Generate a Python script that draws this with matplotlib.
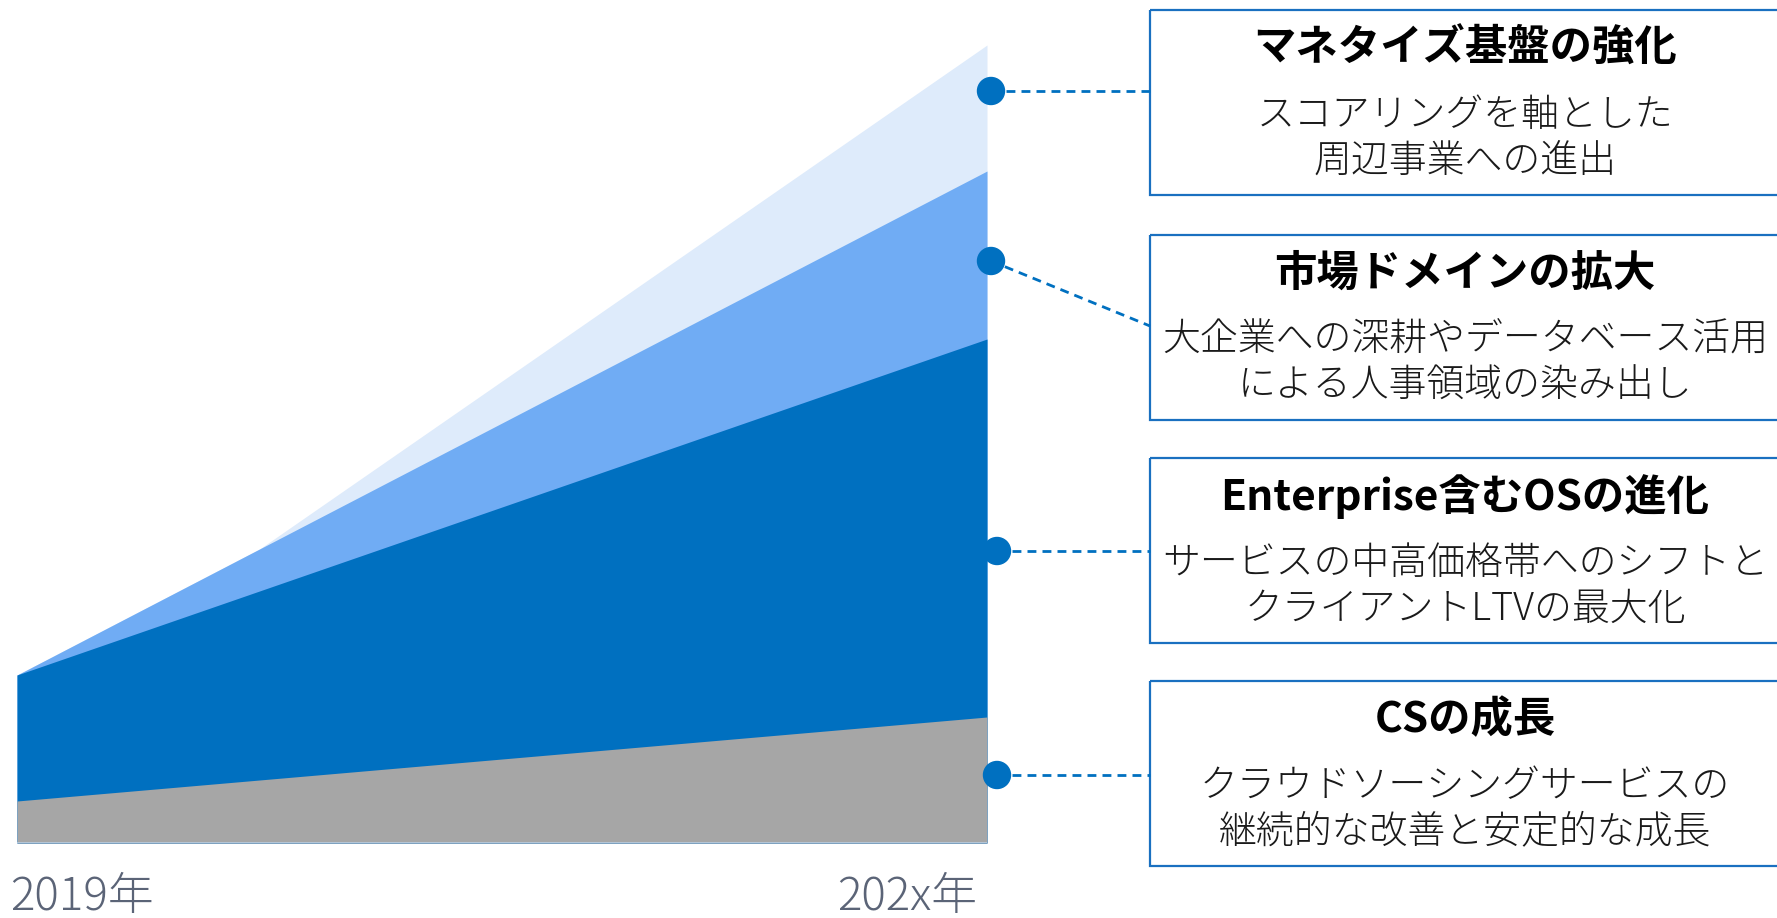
import matplotlib
matplotlib.use('Agg')
import matplotlib.pyplot as plt
from matplotlib.patches import Rectangle, Circle
import numpy as np

plt.rcParams['font.family'] = ['Noto Sans CJK JP', 'DejaVu Sans']

# stacked layers (bottom to top)
steps = [0, 1, 2, 3, 4]
cs_growth = [2, 3, 4, 5, 6]
os_evolution = [6, 9, 12, 15, 18]
market_expansion = [0, 2, 4, 6, 8]
monetize_base = [0, 0, 2, 4, 6]
layer_colors = ['#a6a6a6', '#0070c0', '#70acf4', '#deebfb']

year_labels = ['2019年', '202x年']

titles = ['マネタイズ基盤の強化', '市場ドメインの拡大', 'Enterprise含むOSの進化', 'CSの成長']
bodies = [
    'スコアリングを軸とした\n周辺事業への進出',
    '大企業への深耕やデータベース活用\nによる人事領域の染み出し',
    'サービスの中高価格帯へのシフトと\nクライアントLTVの最大化',
    'クラウドソーシングサービスの\n継続的な改善と安定的な成長',
]

W, H = 1777, 918
BLUE = '#0070c0'


def draw_area(fig):
    # chart area in pixels: x 17..987, baseline at y=843, 21 px per unit
    ax = fig.add_axes([17 / W, (H - 843) / H, 970 / W, 840 / H])
    layers = [cs_growth, os_evolution, market_expansion, monetize_base]
    tops = np.cumsum(np.array(layers, dtype=float), axis=0)
    for i in range(len(layers) - 1, -1, -1):
        ax.fill_between(steps, 0, tops[i], color=layer_colors[i], lw=0)
    ax.set_xlim(steps[0], steps[-1])
    ax.set_ylim(0, 40)
    ax.axhline(0, color='#b8cce0', lw=1.2)
    ax.axis('off')
    return ax


def draw_callouts(fig):
    ov = fig.add_axes([0, 0, 1, 1])
    ov.set_xlim(0, W)
    ov.set_ylim(H, 0)
    ov.axis('off')

    ov.text(10, 897, year_labels[0], ha='left', va='center', fontsize=33,
            color='#5b6477', fontweight='light')
    ov.text(977, 897, year_labels[1], ha='right', va='center', fontsize=33,
            color='#5b6477', fontweight='light')

    box_tops = [10, 235, 458, 681]
    dots = [(991, 91), (991, 261), (997, 551), (997, 775)]
    ends = [(1150, 91), (1150, 326), (1150, 551), (1150, 775)]
    box_left, box_h = 1150, 185
    cx = 1465

    for i in range(4):
        top = box_tops[i]
        ov.add_patch(Rectangle((box_left, top), 640, box_h, fill=False,
                               edgecolor='#1a70c0', lw=1.6))
        ov.plot([dots[i][0], ends[i][0]], [dots[i][1], ends[i][1]],
                color=BLUE, lw=2.0, dashes=(3.2, 2.2))
        ov.add_patch(Circle(dots[i], 13.5, color=BLUE, zorder=5))
        ov.text(cx, top + 39, titles[i], ha='center', va='center',
                fontsize=30.5, fontweight='bold', color='#000000')
        lines = bodies[i].split('\n')
        ov.text(cx, top + 105, lines[0], ha='center', va='center',
                fontsize=27.3, color='#1a1a1a', fontweight='light')
        ov.text(cx, top + 151, lines[1], ha='center', va='center',
                fontsize=27.3, color='#1a1a1a', fontweight='light')


def main():
    fig = plt.figure(figsize=(W / 100, H / 100), dpi=100)
    fig.patch.set_facecolor('white')
    draw_area(fig)
    draw_callouts(fig)
    fig.savefig('out.png', dpi=100, facecolor='white')
    plt.close(fig)


if __name__ == "__main__":
    main()
